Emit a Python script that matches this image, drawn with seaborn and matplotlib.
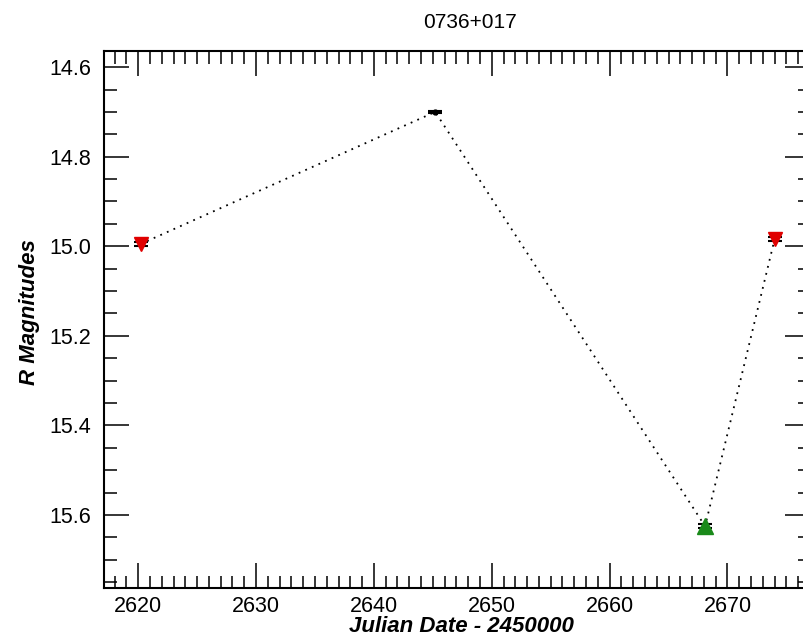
import matplotlib
matplotlib.use("Agg")
import matplotlib.pyplot as plt
import seaborn as sns
import pandas as pd
from matplotlib.ticker import MultipleLocator

# Data
jd = [2620.2, 2645.2, 2668.1, 2674.0]
rmag = [14.995, 14.700, 15.625, 14.984]
rerr = [0.004, 0.003, 0.004, 0.004]
kinds = ["down", "point", "up", "down"]
title = "0736+017"
xlabel = "Julian Date - 2450000"
ylabel = "R Magnitudes"

sns.set_style("ticks")
plt.rcParams["font.family"] = ["Liberation Sans", "DejaVu Sans"]
plt.rcParams.update({"text.color": "black", "axes.labelcolor": "black",
                     "xtick.color": "black", "ytick.color": "black"})

fig = plt.figure(figsize=(8.04, 6.42), dpi=100)
ax = fig.add_axes([104/804, 54/642, 706/804, 537/642])

df = pd.DataFrame({"jd": jd, "rmag": rmag})
sns.lineplot(data=df, x="jd", y="rmag", ax=ax, color="black", linestyle=(0, (1, 3)),
             linewidth=1.3, sort=False, estimator=None)

style = {"down": dict(marker="v", color="#e00000", ms=10.5),
         "up": dict(marker="^", color="#1a8a1a", ms=11),
         "point": dict(marker="o", color="black", ms=3.5)}
for x, y, e, k in zip(jd, rmag, rerr, kinds):
    s = style[k]
    ax.errorbar([x], [y], yerr=[e], fmt=s["marker"], color=s["color"], ms=s["ms"],
                mec=s["color"], ecolor="black", elinewidth=1.2, capsize=5,
                capthick=1.5, zorder=5)

ax.set_xlim(2617.1, 2677.0)
ax.set_ylim(15.763, 14.564)

ax.xaxis.set_major_locator(MultipleLocator(10))
ax.xaxis.set_minor_locator(MultipleLocator(1))
ax.yaxis.set_major_locator(MultipleLocator(0.2))
ax.yaxis.set_minor_locator(MultipleLocator(0.05))
ax.set_yticks(ax.get_yticks())
ax.set_yticklabels([f"{v:.1f}" for v in ax.get_yticks()])
ax.set_ylim(15.763, 14.564)

ax.tick_params(which="both", direction="in", top=True, right=True, color="black",
               labelcolor="black")
ax.tick_params(which="major", length=18, width=1.1, labelsize=15.5, pad=6)
ax.tick_params(which="minor", length=9, width=1.1)
ax.tick_params(axis="y", which="major", pad=9)
for sp in ax.spines.values():
    sp.set_linewidth(1.5)
    sp.set_color("black")

ax.set_xlabel("")
ax.set_ylabel("")
fig.text(461/804, 1 - 627/642, xlabel, ha="center", va="center", fontsize=16,
         fontweight="bold", fontstyle="italic")
fig.text(30/804, 1 - 312/642, ylabel, ha="center", va="center", rotation=90,
         fontsize=16, fontweight="bold", fontstyle="italic")
fig.text(470/804, 1 - 22/642, title, ha="center", va="center", fontsize=15)

fig.savefig("out.png", dpi=100)
